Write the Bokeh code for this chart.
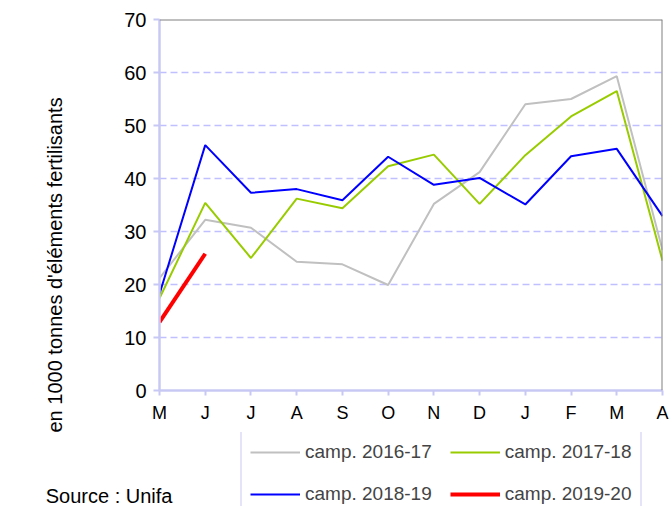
import math
from bokeh.plotting import figure
from bokeh.layouts import column
from bokeh.models import (Legend, LegendItem, Title, Span, FixedTicker, Range1d)
from bokeh.embed import file_html
from bokeh.resources import INLINE

months = ["M", "J", "J", "A", "S", "O", "N", "D", "J", "F", "M", "A"]
camp_2016_17 = [21.2, 32.2, 30.7, 24.3, 23.8, 19.9, 35.2, 41.2, 54.0, 55.0, 59.3, 26.5]
camp_2017_18 = [17.4, 35.4, 25.0, 36.2, 34.4, 42.3, 44.5, 35.2, 44.4, 51.7, 56.5, 24.5]
camp_2018_19 = [18.2, 46.3, 37.3, 38.0, 35.9, 44.1, 38.8, 40.1, 35.1, 44.2, 45.6, 32.9]
camp_2019_20 = [12.9, 25.8]
series_names = ["camp. 2016-17", "camp. 2017-18", "camp. 2018-19", "camp. 2019-20"]
series_colors = ["#c0c0c0", "#99cc00", "#0000ff", "#ff0000"]
series_widths = [2, 2, 2, 4]
y_ticks = [0, 10, 20, 30, 40, 50, 60, 70]
y_label = "en 1000 tonnes d'éléments fertilisants"
source_text = "Source : Unifa"

FONT = "Liberation Sans"
LAV = "#c8c8f4"

# ---------------- main chart ----------------
p = figure(width=672, height=432, output_backend="svg", toolbar_location=None,
           x_range=Range1d(0, 11), y_range=Range1d(0, 70),
           min_border_left=159, min_border_right=10, min_border_top=19,
           min_border_bottom=42)
p.outline_line_color = None
p.background_fill_color = "white"

series = [camp_2016_17, camp_2017_18, camp_2018_19, camp_2019_20]
for vals, col, w in zip(series, series_colors, series_widths):
    p.line(list(range(len(vals))), vals, line_color=col, line_width=w)

xs = list(range(len(months)))
p.xaxis.ticker = FixedTicker(ticks=xs)
p.xaxis.major_label_overrides = {i: m for i, m in enumerate(months)}
p.yaxis.ticker = FixedTicker(ticks=y_ticks)
for ax in (p.xaxis[0], p.yaxis[0]):
    ax.axis_line_color = LAV
    ax.axis_line_width = 2.5
    ax.major_tick_line_color = LAV
    ax.major_tick_line_width = 2
    ax.major_tick_in = 0
    ax.minor_tick_line_color = None
    ax.major_label_text_font = FONT
    ax.major_label_text_color = "#000000"
p.yaxis.major_tick_out = 6
p.yaxis.major_label_standoff = 7
p.yaxis.major_label_text_font_size = "20px"
p.xaxis.major_tick_out = 5
p.xaxis.major_label_standoff = 7
p.xaxis.major_label_text_font_size = "18px"

p.xgrid.grid_line_color = None
p.ygrid.ticker = FixedTicker(ticks=y_ticks[1:-1])
p.ygrid.grid_line_color = "#c0c0ff"
p.ygrid.grid_line_width = 1.5
p.ygrid.grid_line_dash = "7 4"

p.add_layout(Span(location=70, dimension="width", line_color="#808080", line_width=2))
p.add_layout(Span(location=11, dimension="height", line_color="#808080", line_width=2))

# y label: a second blank line pushes the text outward in its panel
p.add_layout(Title(text=y_label + "\n ", align="left", offset=-42, standoff=68,
                   text_font=FONT, text_font_size="20px", text_font_style="normal",
                   text_color="#000000"), "left")

# ---------------- legend / source strip ----------------
H2 = 74
p2 = figure(width=672, height=H2, output_backend="svg", toolbar_location=None,
            x_axis_location=None, y_axis_location="left",
            x_range=Range1d(0, 672 - 159), y_range=Range1d(0, H2),
            min_border_left=159, min_border_right=0, min_border_top=0,
            min_border_bottom=0)
p2.grid.visible = False
p2.outline_line_color = None

src_axis = p2.yaxis[0]
src_axis.ticker = FixedTicker(ticks=[11])
src_axis.major_label_overrides = {11: source_text}
src_axis.axis_line_color = None
src_axis.major_tick_line_color = None
src_axis.minor_tick_line_color = None
src_axis.major_tick_out = 0
src_axis.major_tick_in = 0
src_axis.major_label_standoff = -13
src_axis.major_label_text_font = FONT
src_axis.major_label_text_font_size = "20px"
src_axis.major_label_text_color = "#000000"

nan = float("nan")
items = []
for name, col, w in zip(series_names, series_colors, series_widths):
    r = p2.line(x=[nan], y=[nan], line_color=col, line_width=w)
    items.append(LegendItem(label=name, renderers=[r]))

legend = Legend(items=items, location=(81, -10), orientation="horizontal", ncols=2,
                margin=0,
                label_text_font=FONT, label_text_font_size="19px",
                glyph_width=50, glyph_height=24, label_height=24, label_width=126,
                label_standoff=5, spacing=18, padding=8,
                border_line_color=LAV, border_line_width=2,
                background_fill_color="white", background_fill_alpha=1.0)
p2.add_layout(legend)

layout = column(p, p2, spacing=0)
open("out.html", "w").write(file_html(layout, INLINE))
